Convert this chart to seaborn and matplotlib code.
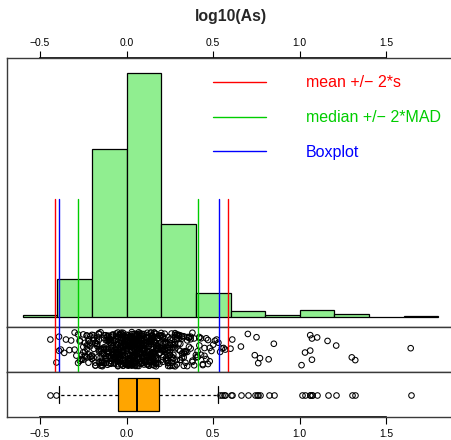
import numpy as np
import pandas as pd
import matplotlib
matplotlib.use("Agg")
import matplotlib.pyplot as plt
import seaborn as sns

# ---------------- data ----------------
title = "log10(As)"
tick_values = [-0.5, 0.0, 0.5, 1.0, 1.5]
tick_labels = ["\u22120.5", "0.0", "0.5", "1.0", "1.5"]

hist_edges = [-0.6, -0.4, -0.2, 0.0, 0.2, 0.4, 0.6, 0.8, 1.0, 1.2, 1.4, 1.6, 1.8]
hist_counts = [2, 44, 193, 280, 107, 28, 7, 2, 8, 3, 0, 1]

# observed values (frequency table) for the strip chart and boxplot
obs_values = [
    -0.44, -0.405,
    -0.39, -0.38, -0.36, -0.35, -0.33, -0.32, -0.30, -0.29, -0.28, -0.27,
    -0.26, -0.25, -0.24, -0.23, -0.22, -0.21, -0.20,
    -0.19, -0.18, -0.17, -0.16, -0.15, -0.14, -0.13, -0.12, -0.11, -0.10,
    -0.09, -0.08, -0.07, -0.06, -0.05, -0.04, -0.03, -0.02, -0.01, 0.00,
    0.01, 0.02, 0.03, 0.04, 0.05, 0.06, 0.07, 0.08, 0.09, 0.10,
    0.11, 0.12, 0.13, 0.14, 0.15, 0.16, 0.17, 0.18, 0.19, 0.20,
    0.21, 0.22, 0.23, 0.24, 0.25, 0.26, 0.27, 0.28, 0.29, 0.30,
    0.31, 0.32, 0.33, 0.34, 0.35, 0.36, 0.37, 0.38, 0.39, 0.40,
    0.41, 0.42, 0.43, 0.44, 0.45, 0.46, 0.47, 0.48, 0.49, 0.50,
    0.51, 0.52, 0.53, 0.54, 0.55, 0.56, 0.57, 0.60,
    0.61, 0.66, 0.70, 0.74, 0.75, 0.76, 0.77, 0.82, 0.85,
    1.01, 1.03, 1.06, 1.07, 1.10, 1.16, 1.21, 1.30, 1.32, 1.64,
]
obs_counts = [
    1, 1,
    2, 1, 1, 1, 1, 1, 2, 1, 2, 3,
    3, 4, 4, 5, 5, 4, 4,
    5, 5, 6, 6, 7, 7, 8, 8, 9, 9,
    10, 10, 11, 11, 13, 13, 13, 14, 14, 14,
    16, 16, 17, 17, 17, 17, 15, 15, 15, 14,
    14, 14, 14, 14, 14, 13, 13, 12, 7, 6,
    8, 8, 8, 8, 7, 7, 7, 6, 6, 6,
    5, 5, 5, 4, 4, 3, 3, 3, 2, 2,
    3, 3, 2, 2, 2, 2, 2, 2, 1, 1,
    1, 1, 1, 1, 1, 1, 1, 1,
    1, 1, 1, 1, 1, 1, 1, 1, 1,
    1, 1, 2, 2, 1, 1, 1, 1, 1, 1,
]

mean_2s = [-0.413, 0.585]
median_2mad = [-0.281, 0.414]
boxplot_whiskers = [-0.392, 0.533]
legend_labels = ["mean +/\u2212 2*s", "median +/\u2212 2*MAD", "Boxplot"]
line_colors = ["#FF0000", "#00CD00", "#0000FF"]

# ---------------- tables ----------------
obs = np.repeat(np.array(obs_values), np.array(obs_counts))
df = pd.DataFrame({"log10_As": obs})
hist_df = pd.DataFrame({
    "mid": [(a + b) / 2 for a, b in zip(hist_edges[:-1], hist_edges[1:])],
    "n": hist_counts,
})

# ---------------- figure ----------------
sns.set_style("white")
plt.rcParams["font.family"] = ["Liberation Sans", "DejaVu Sans"]

W, H = 452, 440
fig = plt.figure(figsize=(W / 100, H / 100), dpi=100)


def fbox(x0, y0, x1, y1):
    return [x0 / W, 1 - y1 / H, (x1 - x0) / W, (y1 - y0) / H]


ax_h = fig.add_axes(fbox(6.7, 58.3, 454, 326.7))
ax_s = fig.add_axes(fbox(6.7, 326.7, 454, 371.7), sharex=ax_h)
ax_b = fig.add_axes(fbox(6.7, 371.7, 454, 417.3), sharex=ax_h)

# histogram
sns.histplot(data=hist_df, x="mid", weights="n", bins=hist_edges, ax=ax_h,
             color="#90EE90", edgecolor="black", linewidth=0.9, alpha=1)
ax_h.set_ylim(-11.14, 297.2)

# strip chart
sns.stripplot(data=df, x="log10_As", ax=ax_s, jitter=0.38, size=4.0,
              color="black", edgecolor="black", linewidth=0.75)
for c in ax_s.collections:
    c.set_facecolor("none")
ax_s.set_ylim(0.5, -0.5)

# boxplot
sns.boxplot(data=df, x="log10_As", ax=ax_b, whis=1.5, width=0.724,
            color="#FFA500", saturation=1, linecolor="black", linewidth=0.9,
            fliersize=4.0,
            whiskerprops=dict(linestyle=(0, (2.6, 2.2))),
            medianprops=dict(linewidth=1.4),
            flierprops=dict(marker="o", markerfacecolor="none",
                            markeredgecolor="black", markersize=4.0,
                            markeredgewidth=0.75))
ax_b.set_ylim(0.5, -0.5)

# reference lines
for vals, col, lab in zip([mean_2s, median_2mad, boxplot_whiskers], line_colors, legend_labels):
    for i, v in enumerate(vals):
        ax_h.axvline(v, ymin=0, ymax=0.4747, color=col, lw=1.0, zorder=5,
                     label=lab if i == 0 else None)
        ax_s.axvline(v, color=col, lw=1.0, zorder=5)

leg = ax_h.legend(loc="upper left", bbox_to_anchor=(0.461, 0.936), frameon=False,
                  fontsize=11.5, handlelength=3.31, handletextpad=2.5,
                  labelspacing=1.23, borderpad=0, borderaxespad=0,
                  labelcolor="linecolor")

ax_h.set_xlim(-0.692, 1.890)

for ax in (ax_h, ax_s, ax_b):
    ax.set_xlabel("")
    ax.set_ylabel("")
    ax.set_yticks([])
    ax.tick_params(axis="x", bottom=False, top=False, labelbottom=False, labeltop=False)
    for sp in ax.spines.values():
        sp.set_visible(True)
        sp.set_color("#3a3a3a")
        sp.set_linewidth(1.0)

top = ax_h.secondary_xaxis("top")
top.set_ticks(tick_values, labels=tick_labels)
top.tick_params(length=5.3, width=0.8, pad=2.4, labelsize=7.4, colors="black")
for k in ("top", "bottom"):
    top.spines[k].set_bounds(-0.5, 1.5)
    top.spines[k].set_linewidth(1.2)
    top.spines[k].set_color("black")

bot = ax_b.secondary_xaxis("bottom")
bot.set_ticks(tick_values, labels=tick_labels)
bot.tick_params(length=4.8, width=0.8, pad=3.3, labelsize=7.4, colors="black")
for k in ("top", "bottom"):
    bot.spines[k].set_bounds(-0.5, 1.5)
    bot.spines[k].set_linewidth(1.2)
    bot.spines[k].set_color("black")

fig.text(230.5 / W, 1 - 17 / H, title, ha="center", va="center",
         fontsize=11.4, fontweight="bold")

fig.savefig("out.png", dpi=100)
